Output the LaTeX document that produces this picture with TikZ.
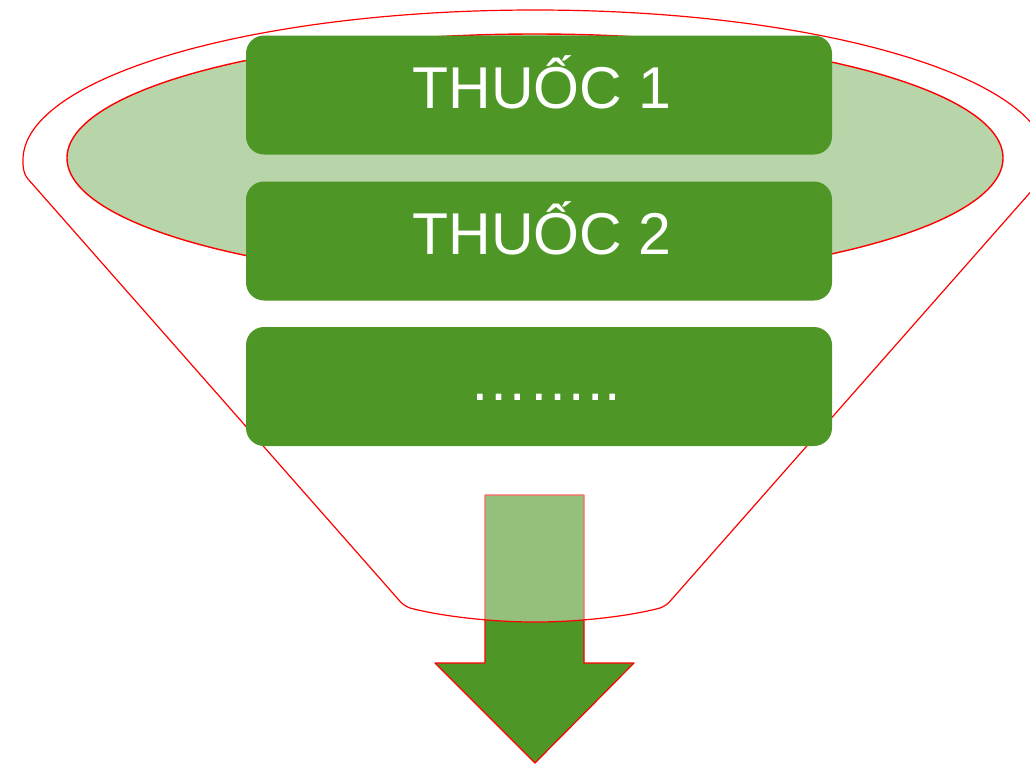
\documentclass[tikz,border=0pt]{standalone}
\usepackage{fontspec}
\setmainfont{Liberation Sans}
\definecolor{dgreen}{RGB}{78,151,38}
\definecolor{lgreen}{RGB}{183,213,168}
\definecolor{fred}{RGB}{255,0,0}
\begin{document}
\begin{tikzpicture}[x=1pt,y=-1pt,
  box/.style={draw=none, fill=dgreen, rounded corners=18pt, minimum width=586pt, minimum height=119pt, inner sep=0pt},
  lbl/.style={text=white, font=\fontsize{59}{70}\selectfont, anchor=base, inner sep=0pt},
  redline/.style={draw=fred, line width=1.2pt}]
\useasboundingbox (0,0) rectangle (1030,764);
\clip (0,0) rectangle (1030,764);
% arrow (behind the funnel)
\draw[redline, fill=dgreen, line join=round] (485,495) -- (584,495) -- (584,663) -- (634,663) -- (535,763) -- (435,663) -- (485,663) -- cycle;
% funnel outline with translucent white fill
\path[redline, fill=white, fill opacity=0.4, line join=round]
  (398,599) -- (28,179) .. controls (23,173) and (23,167) .. (23,160)
  .. controls (23,77.2) and (252.2,10) .. (535,10)
  .. controls (817.8,10) and (1047,77.2) .. (1047,160)
  .. controls (1047,167) and (1047,173) .. (1042,179)
  -- (672,599) .. controls (668,604) and (665,606) .. (660,608)
  .. controls (630,616) and (580,622) .. (535,622)
  .. controls (490,622) and (440,616) .. (410,608)
  .. controls (405,606) and (402,604) .. (398,599) -- cycle;
% inner ellipse
\draw[draw=fred, line width=1.4pt, fill=lgreen] (535,158) ellipse [x radius=468pt, y radius=124pt];
% boxes
\node[box] (b1) at (539,95) {};
\node[box] (b2) at (539,241) {};
\node[box] (b3) at (539,386.5) {};
\node[lbl] (t1) at ([xshift=3pt,yshift=-13pt]b1.center) {THUỐC 1};
\node[lbl] (t2) at ([xshift=3pt,yshift=-13pt]b2.center) {THUỐC 2};
\node[lbl] (t3) at ([xshift=6pt,yshift=-14pt]b3.center) {……..};
\end{tikzpicture}
\end{document}
